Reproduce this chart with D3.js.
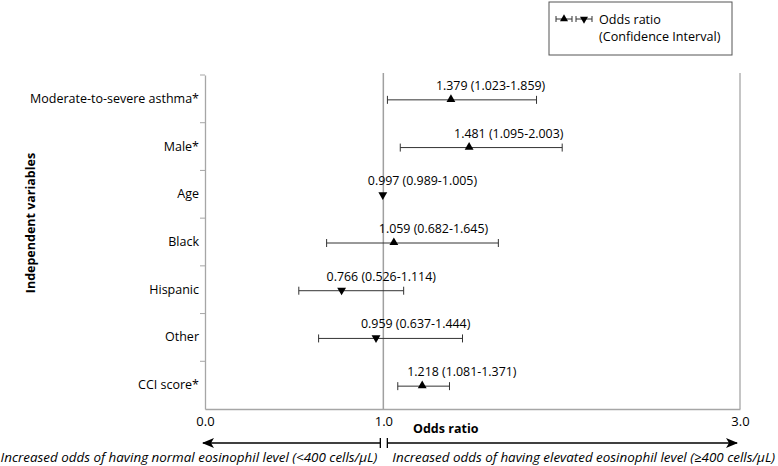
<!DOCTYPE html>
<html>
<head>
<meta charset="utf-8">
<script src="https://cdn.jsdelivr.net/npm/d3@7"></script>
<style>
body { margin: 0; background: #fff; }
text { font-family: "Open Sans", sans-serif; fill: #000; }
</style>
</head>
<body>
<svg width="778" height="466"></svg>
<script>
// forest plot data
var categories = ["Moderate-to-severe asthma*", "Male*", "Age", "Black", "Hispanic", "Other", "CCI score*"];
var oddsRatio = [1.379, 1.481, 0.997, 1.059, 0.766, 0.959, 1.218];
var ciLower = [1.023, 1.095, 0.989, 0.682, 0.526, 0.637, 1.081];
var ciUpper = [1.859, 2.003, 1.005, 1.645, 1.114, 1.444, 1.371];
var xTicks = [0, 1, 3];

var svg = d3.select("svg");

var plot = {left: 205, right: 740, top: 75, bottom: 409};

var xScale = d3.scaleLinear()
    .domain([0, 3])
    .range([plot.left, plot.right]);

var yScale = d3.scaleBand()
    .domain(categories)
    .range([plot.top, plot.bottom]);

var rows = categories.map(function(c, i) {
    return {name: c, or: oddsRatio[i], lo: ciLower[i], hi: ciUpper[i]};
});

// y axis (left)
var yAxis = d3.axisLeft(yScale).tickSize(0).tickPadding(6);
var gy = svg.append("g")
    .attr("transform", "translate(" + plot.left + ",0)")
    .call(yAxis);
gy.select(".domain").attr("stroke", "#a6a6a6").attr("stroke-width", 1.3);
gy.selectAll("text").style("font-size", "12.5px").style("font-family", "Open Sans");

// little boundary ticks between categories
svg.append("g").selectAll("line")
    .data(categories)
    .enter()
    .append("line")
    .attr("x1", plot.left - 5)
    .attr("x2", plot.left)
    .attr("y1", function(d) { return yScale(d); })
    .attr("y2", function(d) { return yScale(d); })
    .attr("stroke", "#a6a6a6");

// x axis (bottom)
var xAxis = d3.axisBottom(xScale)
    .tickValues(xTicks)
    .tickFormat(d3.format(".1f"))
    .tickSize(0)
    .tickPadding(8);
var gx = svg.append("g")
    .attr("transform", "translate(0," + plot.bottom + ")")
    .call(xAxis);
gx.select(".domain").attr("stroke", "#a6a6a6").attr("stroke-width", 1.3);
gx.selectAll("text").style("font-size", "13px").style("font-family", "Open Sans");

// right border
svg.append("line")
    .attr("x1", xScale(3)).attr("x2", xScale(3))
    .attr("y1", plot.top - 2).attr("y2", plot.bottom)
    .attr("stroke", "#a6a6a6").attr("stroke-width", 1.3);

// reference line at 1
svg.append("line")
    .attr("x1", xScale(1)).attr("x2", xScale(1))
    .attr("y1", plot.top - 2).attr("y2", plot.bottom)
    .attr("stroke", "#a0a0a0").attr("stroke-width", 1.5);

// error bars
var g = svg.append("g");
var cy = function(d) { return yScale(d.name) + yScale.bandwidth() / 2 + 1; };

g.selectAll(".ci")
    .data(rows)
    .enter()
    .append("line")
    .attr("class", "ci")
    .attr("x1", function(d) { return xScale(d.lo); })
    .attr("x2", function(d) { return xScale(d.hi); })
    .attr("y1", cy).attr("y2", cy)
    .attr("stroke", "#333").attr("stroke-width", 1);

["lo", "hi"].forEach(function(k) {
    g.selectAll(".cap-" + k)
        .data(rows.filter(function(d) { return d.hi - d.lo > 0.03; }))
        .enter()
        .append("line")
        .attr("x1", function(d) { return xScale(d[k]); })
        .attr("x2", function(d) { return xScale(d[k]); })
        .attr("y1", function(d) { return cy(d) - 4; })
        .attr("y2", function(d) { return cy(d) + 4; })
        .attr("stroke", "#333").attr("stroke-width", 1);
});

var tri = d3.symbol().type(d3.symbolTriangle).size(34);

g.selectAll(".marker")
    .data(rows)
    .enter()
    .append("path")
    .attr("d", tri)
    .attr("fill", "#000")
    .attr("transform", function(d) {
        return "translate(" + xScale(d.or) + "," + (cy(d) - 0.5) + ")" + (d.or < 1 ? " rotate(180)" : "");
    });

var fmt = d3.format(".3f");
g.selectAll(".lab")
    .data(rows)
    .enter()
    .append("text")
    .attr("x", function(d) { return xScale(d.or) - 15; })
    .attr("y", function(d) { return cy(d) - 10; })
    .style("font-size", "12.4px")
    .text(function(d) { return fmt(d.or) + " (" + fmt(d.lo) + "-" + fmt(d.hi) + ")"; });

// axis titles
svg.append("text")
    .attr("transform", "translate(35,223) rotate(-90)")
    .attr("text-anchor", "middle")
    .style("font-size", "12.5px")
    .style("font-weight", "bold")
    .text("Independent variables");

svg.append("text")
    .attr("x", 413).attr("y", 433)
    .style("font-size", "12.5px")
    .style("font-weight", "bold")
    .text("Odds ratio");

// direction arrows
var arrowY = 443;
var defs = svg.append("defs");
defs.append("marker")
    .attr("id", "head")
    .attr("viewBox", "0 0 12 10")
    .attr("refX", 11).attr("refY", 5)
    .attr("markerWidth", 12).attr("markerHeight", 10)
    .attr("markerUnits", "userSpaceOnUse")
    .attr("orient", "auto")
    .append("path")
    .attr("d", "M0,0L12,5L0,10L3,5Z")
    .attr("fill", "#000");

svg.append("line")
    .attr("x1", xScale(1) - 3).attr("x2", xScale(0) - 2)
    .attr("y1", arrowY).attr("y2", arrowY)
    .attr("stroke", "#000").attr("stroke-width", 1.5)
    .attr("marker-end", "url(#head)");
svg.append("line")
    .attr("x1", xScale(1) + 4).attr("x2", xScale(3) - 3)
    .attr("y1", arrowY).attr("y2", arrowY)
    .attr("stroke", "#000").attr("stroke-width", 1.5)
    .attr("marker-end", "url(#head)");
[xScale(1) - 3, xScale(1) + 4].forEach(function(x) {
    svg.append("line")
        .attr("x1", x).attr("x2", x)
        .attr("y1", arrowY - 5).attr("y2", arrowY + 5)
        .attr("stroke", "#000").attr("stroke-width", 1.3);
});

svg.append("text")
    .attr("x", xScale(1) - 6).attr("y", 462)
    .attr("text-anchor", "end")
    .style("font-size", "13.4px")
    .style("font-style", "italic")
    .text("Increased odds of having normal eosinophil level (<400 cells/\u00b5L)");
svg.append("text")
    .attr("x", xScale(1) + 9).attr("y", 462)
    .style("font-size", "13.4px")
    .style("font-style", "italic")
    .text("Increased odds of having elevated eosinophil level (\u2265400 cells/\u00b5L)");

// legend
var lg = svg.append("g").attr("transform", "translate(549,2)");
lg.append("rect")
    .attr("width", 183).attr("height", 53)
    .attr("fill", "#fff").attr("stroke", "#555").attr("stroke-width", 1);

[{x: 15, up: true}, {x: 35, up: false}].forEach(function(s) {
    var sy = 17;
    lg.append("line").attr("x1", s.x - 8).attr("x2", s.x + 8).attr("y1", sy).attr("y2", sy)
        .attr("stroke", "#333");
    lg.append("line").attr("x1", s.x - 8).attr("x2", s.x - 8).attr("y1", sy - 3).attr("y2", sy + 3)
        .attr("stroke", "#333");
    lg.append("line").attr("x1", s.x + 8).attr("x2", s.x + 8).attr("y1", sy - 3).attr("y2", sy + 3)
        .attr("stroke", "#333");
    lg.append("path")
        .attr("d", d3.symbol().type(d3.symbolTriangle).size(28))
        .attr("fill", "#000")
        .attr("transform", "translate(" + s.x + "," + sy + ")" + (s.up ? "" : " rotate(180)"));
});

lg.append("text").attr("x", 50).attr("y", 22).style("font-size", "12.6px").text("Odds ratio");
lg.append("text").attr("x", 50).attr("y", 39).style("font-size", "12.6px").text("(Confidence Interval)");
</script>
</body>
</html>
